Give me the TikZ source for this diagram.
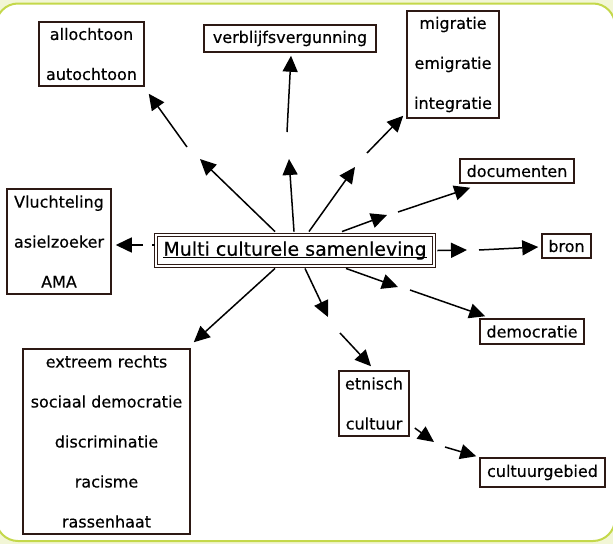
\documentclass[tikz,border=0pt]{standalone}
\usepackage{fontspec}
\setmainfont[FakeBold=0.4]{DejaVu Sans}
\usetikzlibrary{arrows.meta,calc}
\definecolor{frameg}{RGB}{196,216,74}
\definecolor{bgout}{RGB}{242,246,214}
\definecolor{boxc}{RGB}{45,25,20}
\newcommand\myul[1]{\setbox0\hbox{#1}\rlap{\rule[-2.5pt]{\wd0}{1.3pt}}\box0}
\begin{document}
\begin{tikzpicture}[x=1pt,y=-1pt,
  box/.style={draw=boxc,line width=1.5pt,inner sep=0pt,align=center,font=\fontsize{16}{40}\selectfont},
  arr/.style={-{Triangle[length=16pt,width=15pt]},line width=1.5pt},
  seg/.style={line width=1.5pt}]
\fill[bgout] (0,0) rectangle (613,544);
\useasboundingbox (0,0) rectangle (613,544);
\draw[frameg, fill=white, line width=2pt, rounded corners=22pt] (-4,3.5) rectangle (615,541);

\node[box,minimum width=105pt,minimum height=64pt] (allo) at (91.5,54) {allochtoon\\autochtoon};
\node[box,minimum width=172pt,minimum height=27pt] (verb) at (290,38.5) {verblijfsvergunning};
\node[box,minimum width=92pt,minimum height=107pt] (mig) at (453,64.5) {migratie\\emigratie\\integratie};
\node[box,minimum width=114pt,minimum height=24pt] (docu) at (517,171) {documenten};
\node[box,minimum width=104pt,minimum height=105pt] (vlu) at (59,241.5) {Vluchteling\\asielzoeker\\AMA};
\node[draw=boxc,double,double distance=1.6pt,line width=0.9pt,minimum width=278pt,minimum height=31pt,inner sep=0pt,font=\fontsize{19}{22}\selectfont] (ctr) at (295,250.5) {\myul{Multi culturele samenleving}};
\node[box,minimum width=49pt,minimum height=24pt] (bron) at (566.5,246) {bron};
\node[box,minimum width=104pt,minimum height=25pt] (demo) at (532,331.5) {democratie};
\node[box,minimum width=167pt,minimum height=185pt] (ext) at (106.5,441.5) {extreem rechts\\sociaal democratie\\discriminatie\\racisme\\rassenhaat};
\node[box,minimum width=70pt,minimum height=65pt] (etn) at (374,403.5) {etnisch\\cultuur};
\node[box,minimum width=125pt,minimum height=29pt] (cult) at (542.5,472.5) {cultuurgebied};

% allochtoon
\coordinate (a1) at (200,159); \coordinate (a2) at (187,147);
\draw[arr] ($(ctr.north)+(-20,-3)$) -- (a1);
\draw[arr] (a2) -- ($(allo.south east)+(4,7)$);
% verblijfsvergunning
\coordinate (b1) at (289,159); \coordinate (b2) at (287,132);
\draw[arr] ($(ctr.north)+(-1,-3)$) -- (b1);
\draw[arr] (b2) -- ($(verb.south)+(1,3)$);
% migratie
\coordinate (c1) at (355,167); \coordinate (c2) at (367,153);
\draw[arr] ($(ctr.north)+(14,-3)$) -- (c1);
\draw[arr] (c2) -- ($(mig.south west)+(-3,-3)$);
% documenten
\coordinate (d1) at (387,215); \coordinate (d2) at (398,212);
\draw[arr] ($(ctr.north)+(47,-3)$) -- (d1);
\draw[arr] (d2) -- ($(docu.south west)+(11,4)$);
% bron
\coordinate (e1) at (467,250); \coordinate (e2) at (479,250);
\draw[arr] ($(ctr.east)+(3,0)$) -- (e1);
\draw[arr] (e2) -- ($(bron.west)+(-3,1)$);
% democratie
\coordinate (f1) at (398,287); \coordinate (f2) at (410,290);
\draw[arr] ($(ctr.south)+(51,2)$) -- (f1);
\draw[arr] (f2) -- ($(demo.north west)+(6,-2)$);
% etnisch
\coordinate (g1) at (328,317); \coordinate (g2) at (340,333);
\draw[arr] ($(ctr.south)+(10,2)$) -- (g1);
\draw[arr] (g2) -- ($(etn.north)+(-3,-4)$);
% cultuurgebied
\coordinate (h1) at (434,442); \coordinate (h2) at (445,447);
\draw[arr] ($(etn.east)+(5,24.5)$) -- (h1);
\draw[arr] (h2) -- ($(cult.north west)+(-3,-1)$);
% extreem
\draw[arr] ($(ctr.south)+(-20,2)$) -- ($(ext.north east)+(3,-6)$);
% vluchteling
\draw[seg] ($(ctr.west)+(-1,-5.5)$) -- ($(ctr.west)+(-4,-5.5)$);
\coordinate (v2) at (143,245);
\draw[arr] (v2) -- ($(vlu.east)+(4,3.5)$);
\end{tikzpicture}
\end{document}
